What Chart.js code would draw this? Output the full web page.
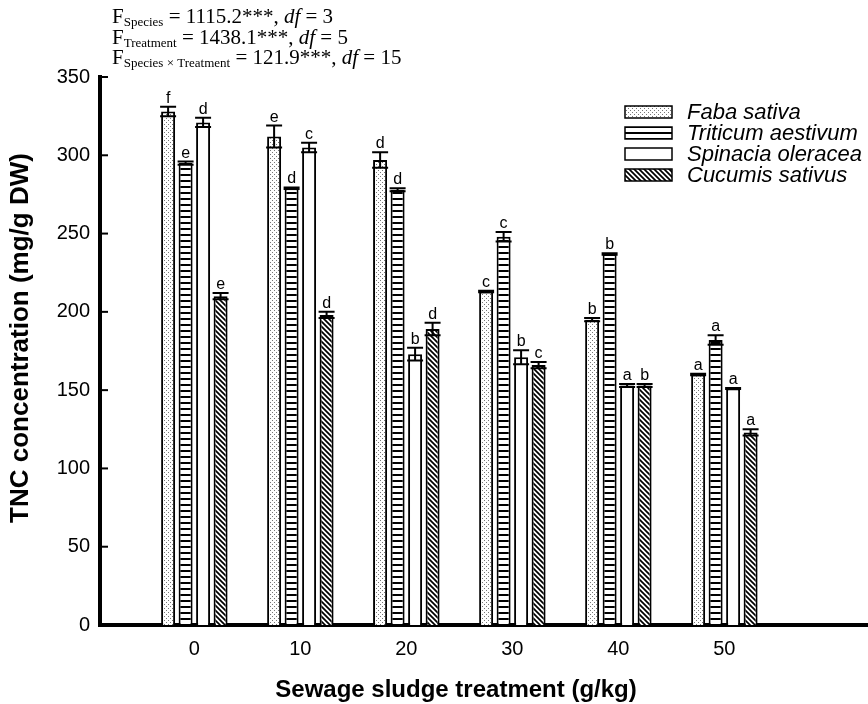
<!DOCTYPE html>
<html>
<head>
<meta charset="utf-8">
<script src="https://cdn.jsdelivr.net/npm/chart.js@4.4.1/dist/chart.umd.min.js"></script>
<style>
  html, body { margin: 0; padding: 0; background: #fff; }
  #wrap { width: 868px; height: 704px; position: relative; }
</style>
</head>
<body>
<div id="wrap"><canvas id="tnc-chart"></canvas></div>
<script>
// treatment levels (g/kg) and y ticks
const treatments = [0, 10, 20, 30, 40, 50];
const yTicks = [0, 50, 100, 150, 200, 250, 300, 350];

const species = ['Faba sativa', 'Triticum aestivum', 'Spinacia oleracea', 'Cucumis sativus'];

// mean TNC (mg/g DW)
const fabaMeans = [328, 312, 297, 213, 195, 160];
const triticumMeans = [295, 279, 278, 248, 237, 182];
const spinaciaMeans = [321, 305, 173, 171, 153, 151];
const cucumisMeans = [210, 198, 189, 166, 153, 123];

// error bar half lengths
const fabaErrors = [3, 7, 5, 0.5, 1, 0.5];
const triticumErrors = [1, 0.5, 1, 3, 0.5, 3];
const spinaciaErrors = [3, 3, 4, 4.5, 1, 0.3];
const cucumisErrors = [2, 2, 4, 2, 1, 2];

// significance letters
const fabaLetters = ['f', 'e', 'd', 'c', 'b', 'a'];
const triticumLetters = ['e', 'd', 'd', 'c', 'b', 'a'];
const spinaciaLetters = ['d', 'c', 'b', 'b', 'a', 'a'];
const cucumisLetters = ['e', 'd', 'd', 'c', 'b', 'a'];

// ANOVA annotation
const statSubs = ['Species', 'Treatment', 'Species \u00d7 Treatment'];
const statValues = ['1115.2', '1438.1', '121.9'];
const statDf = ['3', '5', '15'];

const xTitle = 'Sewage sludge treatment (g/kg)';
const yTitle = 'TNC concentration (mg/g DW)';

const sans = '"Liberation Sans", Arial, sans-serif';
const serif = '"Liberation Serif", "Times New Roman", serif';

function makePattern(kind) {
    const c = document.createElement('canvas');
    const ctx = c.getContext('2d');
    if (kind === 'dots') {
        c.width = 4; c.height = 4;
        ctx.fillStyle = '#fff'; ctx.fillRect(0, 0, 4, 4);
        ctx.fillStyle = '#777';
        ctx.fillRect(0, 0, 1, 1);
        ctx.fillRect(2, 2, 1, 1);
    } else if (kind === 'hlines') {
        c.width = 6; c.height = 6;
        ctx.fillStyle = '#fff'; ctx.fillRect(0, 0, 6, 6);
        ctx.fillStyle = '#000'; ctx.fillRect(0, 0, 6, 2);
    } else if (kind === 'diag') {
        c.width = 5; c.height = 5;
        ctx.fillStyle = '#fff'; ctx.fillRect(0, 0, 5, 5);
        ctx.strokeStyle = '#000'; ctx.lineWidth = 1.7;
        ctx.beginPath();
        ctx.moveTo(-1, -1); ctx.lineTo(6, 6);
        ctx.moveTo(-1, 4); ctx.lineTo(1, 6);
        ctx.moveTo(4, -1); ctx.lineTo(6, 1);
        ctx.stroke();
    } else {
        c.width = 2; c.height = 2;
        ctx.fillStyle = '#fff'; ctx.fillRect(0, 0, 2, 2);
    }
    return ctx.createPattern(c, 'repeat');
}

const fills = [makePattern('dots'), makePattern('hlines'), makePattern('white'), makePattern('diag')];
const allMeans = [fabaMeans, triticumMeans, spinaciaMeans, cucumisMeans];
const allErrors = [fabaErrors, triticumErrors, spinaciaErrors, cucumisErrors];
const allLetters = [fabaLetters, triticumLetters, spinaciaLetters, cucumisLetters];

const datasets = species.map((name, i) => ({
    label: name,
    data: treatments.map((t, j) => ({ x: t, y: allMeans[i][j] })),
    backgroundColor: fills[i],
    borderColor: '#000',
    borderWidth: 2,
    categoryPercentage: 0.66,
    barPercentage: 0.8
}));

// error bars, letters, inward y ticks, legend, titles and ANOVA text
const extrasPlugin = {
    id: 'extras',
    afterDatasetsDraw(chart) {
        const ctx = chart.ctx;
        const y = chart.scales.y;
        ctx.save();
        ctx.strokeStyle = '#000';
        ctx.fillStyle = '#000';
        ctx.lineWidth = 2;
        chart.data.datasets.forEach((ds, i) => {
            const meta = chart.getDatasetMeta(i);
            meta.data.forEach((bar, j) => {
                const m = allMeans[i][j];
                const e = allErrors[i][j];
                const yTop = y.getPixelForValue(m + e);
                const yBot = y.getPixelForValue(m - e);
                const half = bar.width / 2 + 1;
                ctx.beginPath();
                ctx.moveTo(bar.x, yTop); ctx.lineTo(bar.x, yBot);
                ctx.moveTo(bar.x - half, yTop); ctx.lineTo(bar.x + half, yTop);
                ctx.moveTo(bar.x - half, yBot); ctx.lineTo(bar.x + half, yBot);
                ctx.stroke();
                ctx.font = '16px ' + sans;
                ctx.textAlign = 'center';
                ctx.textBaseline = 'alphabetic';
                ctx.fillText(allLetters[i][j], bar.x, yTop - 4);
            });
        });
        ctx.restore();
    },
    afterDraw(chart) {
        const ctx = chart.ctx;
        const area = chart.chartArea;
        const y = chart.scales.y;
        ctx.save();
        // inward ticks on the y axis
        ctx.strokeStyle = '#000';
        ctx.lineWidth = 2;
        yTicks.forEach(v => {
            const py = y.getPixelForValue(v);
            ctx.beginPath();
            ctx.moveTo(area.left, py); ctx.lineTo(area.left + 8, py);
            ctx.stroke();
        });

        // legend
        const lx = 625, ly = 106;
        species.forEach((name, i) => {
            const top = ly + i * 21;
            ctx.fillStyle = fills[i];
            ctx.fillRect(lx, top, 47, 12);
            ctx.lineWidth = 1.5;
            ctx.strokeRect(lx, top, 47, 12);
            ctx.fillStyle = '#000';
            ctx.font = 'italic 22px ' + sans;
            ctx.textAlign = 'left';
            ctx.textBaseline = 'middle';
            ctx.fillText(name, 687, top + 7);
        });

        // axis titles
        ctx.fillStyle = '#000';
        ctx.textAlign = 'center';
        ctx.textBaseline = 'middle';
        ctx.font = 'bold 24px ' + sans;
        ctx.fillText(xTitle, 456, 690);
        ctx.save();
        ctx.translate(21, 338);
        ctx.rotate(-Math.PI / 2);
        ctx.font = 'bold 26px ' + sans;
        ctx.fillText(yTitle, 0, 0);
        ctx.restore();

        // ANOVA text
        ctx.textBaseline = 'alphabetic';
        ctx.textAlign = 'left';
        statSubs.forEach((sub, i) => {
            let x = 112;
            const base = 23 + i * 20.5;
            ctx.font = '21px ' + serif;
            ctx.fillText('F', x, base); x += ctx.measureText('F').width;
            ctx.font = '13px ' + serif;
            ctx.fillText(sub, x, base + 3); x += ctx.measureText(sub).width;
            ctx.font = '21px ' + serif;
            const mid = ' = ' + statValues[i] + '***, ';
            ctx.fillText(mid, x, base); x += ctx.measureText(mid).width;
            ctx.font = 'italic 21px ' + serif;
            ctx.fillText('df', x, base); x += ctx.measureText('df').width;
            ctx.font = '21px ' + serif;
            ctx.fillText(' = ' + statDf[i], x, base);
        });
        ctx.restore();
    }
};

new Chart(document.getElementById('tnc-chart'), {
    type: 'bar',
    data: { datasets: datasets },
    options: {
        responsive: true,
        maintainAspectRatio: false,
        animation: false,
        layout: { padding: { top: 77, right: 0, bottom: 0, left: 0 } },
        plugins: {
            legend: { display: false },
            tooltip: { enabled: false }
        },
        scales: {
            x: {
                type: 'linear',
                min: -8.9,
                max: 63.55,
                offset: false,
                afterBuildTicks: scale => { scale.ticks = treatments.map(v => ({ value: v })); },
                afterFit: scale => { scale.height = 79; },
                grid: { display: false, drawTicks: false },
                border: { display: true, color: '#000', width: 4 },
                ticks: {
                    color: '#000',
                    padding: 12,
                    font: { family: sans, size: 20 }
                }
            },
            y: {
                min: 0,
                max: 350,
                afterBuildTicks: scale => { scale.ticks = yTicks.map(v => ({ value: v })); },
                afterFit: scale => { scale.width = 100; },
                grid: { display: false, drawTicks: false },
                border: { display: true, color: '#000', width: 4 },
                ticks: {
                    color: '#000',
                    padding: 10,
                    font: { family: sans, size: 20 }
                }
            }
        }
    },
    plugins: [extrasPlugin]
});
</script>
</body>
</html>
